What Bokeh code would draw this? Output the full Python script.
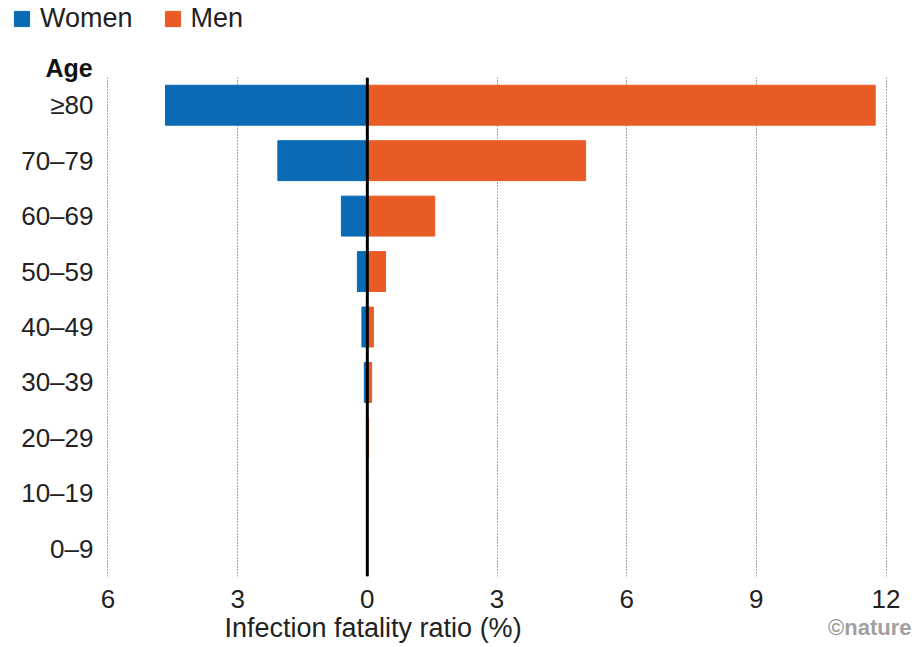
from bokeh.plotting import figure
from bokeh.layouts import column, row
from bokeh.models import FactorRange, Range1d, Span, Title, Legend, LegendItem, FixedTicker, ColumnDataSource
from bokeh.embed import file_html
from bokeh.resources import INLINE

ages = ["0–9", "10–19", "20–29", "30–39", "40–49", "50–59", "60–69", "70–79", "≥80"]
women = [0.002, 0.004, 0.02, 0.07, 0.125, 0.23, 0.6, 2.07, 4.67]
men = [0.002, 0.005, 0.03, 0.1, 0.14, 0.42, 1.56, 5.05, 11.75]
x_ticks = [-6, -3, 0, 3, 6, 9, 12]
x_tick_labels = ["6", "3", "0", "3", "6", "9", "12"]
series = ["Women", "Men"]

FONT = "Liberation Sans"
BLUE = "#0a6ab4"
ORANGE = "#e95b25"
W = 918
TOP_H = 44
MAIN_H = 602

# ---- legend strip (legend keys only, no visible data) ----
top = figure(width=W, height=TOP_H, output_backend="svg", toolbar_location=None,
             x_range=Range1d(0, 1), y_range=Range1d(0, 1), min_border=0)
top.outline_line_color = None
top.xaxis.visible = False
top.yaxis.visible = False
top.xgrid.grid_line_color = None
top.ygrid.grid_line_color = None
nan = float("nan")
key_src = ColumnDataSource(dict(y=[nan], left=[nan], right=[nan]))
lw = top.hbar(y="y", left="left", right="right", height=0.72, color=BLUE, source=key_src)
lm = top.hbar(y="y", left="left", right="right", height=0.72, color=ORANGE, source=key_src)
legend = Legend(items=[LegendItem(label=series[0], renderers=[lw]), LegendItem(label=series[1], renderers=[lm])],
                orientation="horizontal", location=(12, 10), border_line_color=None,
                background_fill_alpha=0, padding=0, margin=0, spacing=30, label_standoff=9,
                glyph_width=19, glyph_height=19, label_text_font=FONT, label_text_font_size="27px",
                label_text_color="#222222")
top.add_layout(legend)

# ---- main chart ----
p = figure(width=W, height=MAIN_H, output_backend="svg", toolbar_location=None,
           y_range=FactorRange(factors=ages, range_padding=0.0),
           x_range=Range1d(-6.15, 12.15),
           min_border_left=101, min_border_right=26, min_border_top=33, min_border_bottom=70)
p.outline_line_color = None

women_neg = [-w for w in women]
p.hbar(y=ages, left=women_neg, right=0, height=0.72, color=BLUE)
p.hbar(y=ages, left=0, right=men, height=0.72, color=ORANGE)

p.ygrid.grid_line_color = None
p.xgrid.ticker = FixedTicker(ticks=x_ticks)
p.xgrid.grid_line_color = "#444444"
p.xgrid.grid_line_dash = "1 2"
p.xgrid.grid_line_width = 1

p.xaxis.ticker = FixedTicker(ticks=x_ticks)
p.xaxis.major_label_overrides = {t: l for t, l in zip(x_ticks, x_tick_labels)}
for ax in (p.xaxis, p.yaxis):
    ax.axis_line_color = None
    ax.major_tick_line_color = None
    ax.minor_tick_line_color = None
    ax.major_tick_out = 0
    ax.major_tick_in = 0
    ax.major_label_text_font = FONT
    ax.major_label_text_font_size = "26px"
    ax.major_label_text_color = "#222222"
p.xaxis.major_label_standoff = 13
p.yaxis.major_label_standoff = 8

p.add_layout(Span(location=0, dimension="height", line_color="black", line_width=3))

p.add_layout(Title(text="Age", align="left", offset=-56, standoff=-8, text_font=FONT,
                   text_font_style="bold", text_font_size="25px", text_color="#111111"), "above")

p.add_layout(Title(text="Infection fatality ratio (%)", align="left", offset=123, standoff=4,
                   vertical_align="top", text_font=FONT, text_font_style="normal",
                   text_font_size="27px", text_color="#222222"), "below")
p.add_layout(Title(text="©nature", align="right", offset=-19, standoff=-63,
                   vertical_align="top", text_font="'Liberation Sans Narrow', 'Liberation Sans'",
                   text_font_style="bold", text_font_size="22px", text_color="#a0a0a0"), "below")

open("out.html", "w").write(file_html(column(row(top), row(p), spacing=0), INLINE))
